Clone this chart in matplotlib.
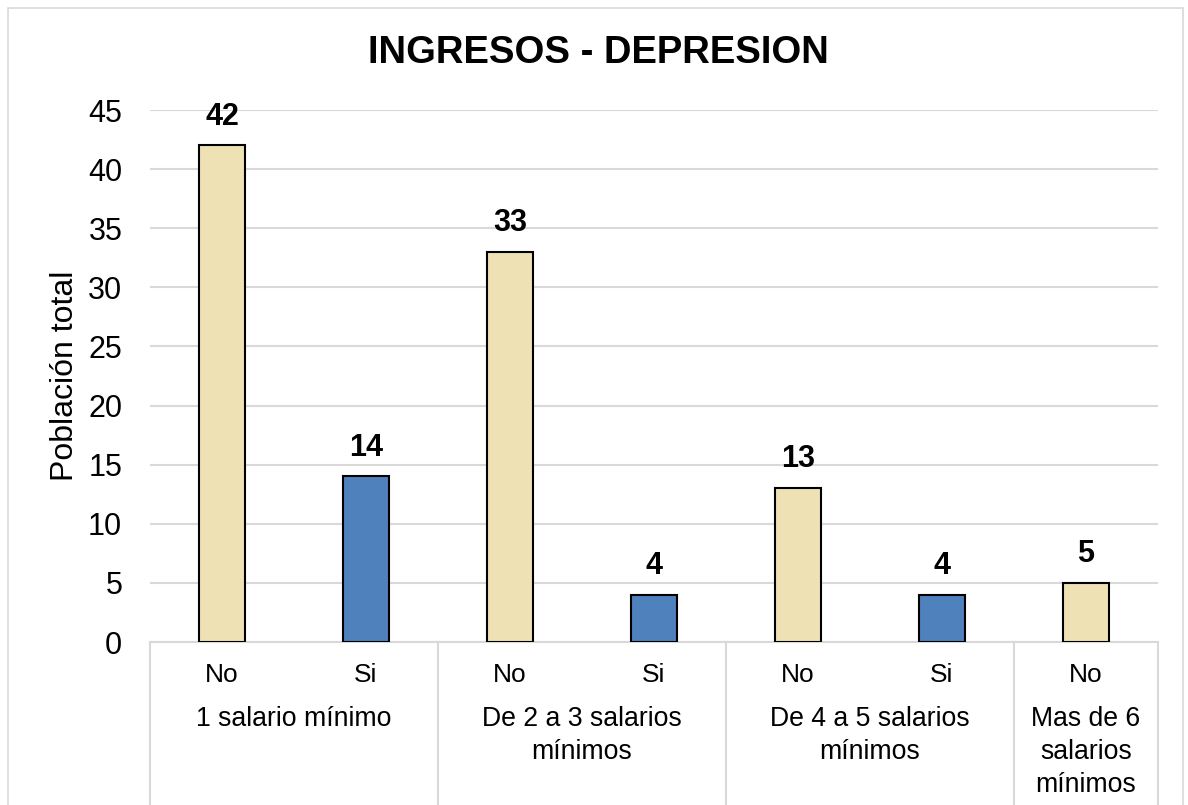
import matplotlib
matplotlib.use("Agg")
import matplotlib.pyplot as plt
from matplotlib.patches import Rectangle
import matplotlib.transforms as mtransforms

plt.rcParams['font.family'] = ['Liberation Sans', 'DejaVu Sans']

subcats = ["No", "Si", "No", "Si", "No", "Si", "No"]
values = [42, 14, 33, 4, 13, 4, 5]
groups = ["1 salario mínimo", "De 2 a 3 salarios\nmínimos", "De 4 a 5 salarios\nmínimos", "Mas de 6\nsalarios\nmínimos"]
group_sizes = [2, 2, 2, 1]
yticks = [0, 5, 10, 15, 20, 25, 30, 35, 40, 45]
title = "INGRESOS - DEPRESION"
ylabel = "Población total"

col_no = "#EEE2B4"
col_si = "#4F81BD"

W, H = 1188, 805
fig = plt.figure(figsize=(W / 100, H / 100), dpi=100)
fig.patches.append(Rectangle((8 / W, -0.01), (1183 - 8) / W, 1 - 8 / H + 0.01,
                             transform=fig.transFigure, fill=False,
                             edgecolor="#d9d9d9", linewidth=1.2))

ax = fig.add_axes([150 / W, 1 - 642 / H, 1008 / W, (642 - 110) / H])
x = list(range(len(values)))
colors = [col_no if s == "No" else col_si for s in subcats]
bars = ax.bar(x, values, width=0.32, color=colors, edgecolor="black", linewidth=1.5, zorder=3)
for xi, v in zip(x, values):
    ax.annotate(str(v), (xi, v), xytext=(0, 10), textcoords="offset points",
                ha="center", va="bottom", fontsize=22, fontweight="bold")

ax.set_xlim(-0.5, len(values) - 0.5)
ax.set_ylim(0, 45)
ax.set_yticks(yticks)
ax.tick_params(axis="y", length=0, labelsize=22, pad=20)
ax.set_xticks([])
ax.grid(axis="y", color="#d9d9d9", linewidth=1.5, zorder=0)
for s in ["top", "right", "left"]:
    ax.spines[s].set_visible(False)
ax.spines["bottom"].set_color("#d9d9d9")
ax.spines["bottom"].set_linewidth(1.5)
fig.text(598 / W, 1 - 53 / H, title, fontsize=27.5, fontweight="bold",
         ha="center", va="center")
ax.set_ylabel(ylabel, fontsize=23)
ax.yaxis.set_label_coords(-70 / 1008, 0.5)

trans = mtransforms.blended_transform_factory(ax.transData, ax.transAxes)
# sub-category labels
for xi, s in zip(x, subcats):
    ax.text(xi, -33 / 532, s, transform=trans, ha="center", va="center", fontsize=19)
# group labels and separators
start = 0
bounds = [-0.5]
for g, n in zip(groups, group_sizes):
    center = start + (n - 1) / 2
    ax.text(center, -64 / 532, g, transform=trans, ha="center", va="top",
            fontsize=19.2, linespacing=1.36)
    start += n
    bounds.append(start - 0.5)
for b in bounds:
    ax.plot([b, b], [0, -170 / 532], transform=trans, color="#d9d9d9",
            linewidth=1.5, clip_on=False)

fig.savefig("out.png", dpi=100)
